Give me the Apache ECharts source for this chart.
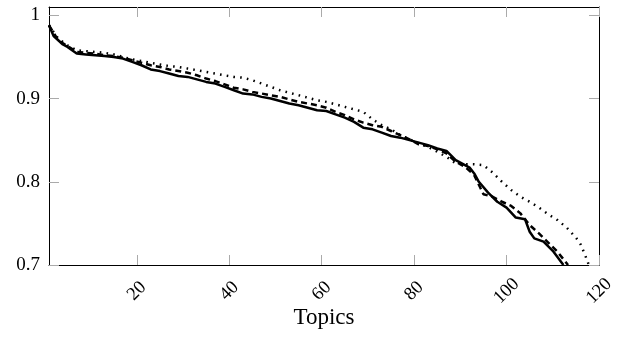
<!DOCTYPE html>
<html>
<head>
<meta charset="utf-8">
<script src="https://cdn.jsdelivr.net/npm/echarts@6/dist/echarts.min.js"></script>
<style>
  html, body { margin: 0; padding: 0; background: #fff; }
  #main { width: 624px; height: 337px; }
</style>
</head>
<body>
<div id="main"></div>
<script>
// topics / values
var solidX = [1, 2, 3, 4, 5, 6, 7, 9, 11, 13, 15, 17, 19, 21, 23, 25, 27, 29, 31, 33, 35, 37, 39, 41, 43, 45, 47, 49, 51, 53, 55, 57, 59, 61, 63, 65, 67, 69, 71, 73, 75, 77, 79, 81, 83, 85, 87, 89, 91, 92, 93, 94, 96, 98, 100, 102, 104, 105, 106, 108, 110, 112.3];
var solidY = [0.988, 0.975, 0.970, 0.965, 0.962, 0.958, 0.954, 0.953, 0.952, 0.951, 0.950, 0.948, 0.944, 0.940, 0.935, 0.933, 0.930, 0.927, 0.926, 0.923, 0.920, 0.918, 0.914, 0.910, 0.906, 0.905, 0.902, 0.900, 0.897, 0.894, 0.892, 0.889, 0.886, 0.885, 0.881, 0.877, 0.872, 0.865, 0.863, 0.859, 0.855, 0.853, 0.850, 0.847, 0.844, 0.840, 0.837, 0.826, 0.820, 0.817, 0.810, 0.800, 0.787, 0.776, 0.769, 0.757, 0.755, 0.740, 0.732, 0.728, 0.717, 0.700];

var dashX = [1, 3, 5, 7, 9, 11, 13, 15, 17, 19, 21, 23, 25, 27, 29, 31, 33, 35, 37, 39, 41, 43, 45, 47, 49, 51, 53, 55, 57, 59, 61, 63, 65, 67, 69, 71, 73, 75, 77, 79, 81, 83, 85, 87, 89, 91, 93, 95, 97, 99, 101, 103, 105, 107, 109, 111, 113.3];
var dashY = [0.988, 0.970, 0.963, 0.956, 0.955, 0.954, 0.952, 0.951, 0.949, 0.946, 0.943, 0.940, 0.938, 0.935, 0.933, 0.931, 0.928, 0.924, 0.921, 0.917, 0.913, 0.911, 0.908, 0.906, 0.904, 0.902, 0.899, 0.896, 0.894, 0.892, 0.889, 0.884, 0.880, 0.875, 0.871, 0.868, 0.866, 0.861, 0.856, 0.851, 0.845, 0.843, 0.839, 0.834, 0.824, 0.818, 0.808, 0.785, 0.782, 0.776, 0.771, 0.762, 0.748, 0.738, 0.727, 0.716, 0.700];

var dotX = [1, 3, 5, 7, 9, 11, 13, 15, 17, 19, 21, 23, 25, 27, 29, 31, 33, 35, 37, 39, 41, 43, 45, 47, 49, 51, 53, 55, 57, 59, 61, 63, 65, 67, 69, 71, 73, 75, 77, 79, 81, 83, 85, 87, 89, 91, 93, 95, 97, 99, 101, 103, 105, 107, 109, 111, 113, 115, 116, 117, 117.8];
var dotY = [0.988, 0.972, 0.964, 0.958, 0.957, 0.956, 0.955, 0.953, 0.950, 0.947, 0.945, 0.943, 0.941, 0.939, 0.938, 0.936, 0.934, 0.932, 0.930, 0.928, 0.926, 0.925, 0.922, 0.918, 0.914, 0.910, 0.907, 0.904, 0.901, 0.898, 0.896, 0.893, 0.890, 0.887, 0.884, 0.875, 0.868, 0.863, 0.856, 0.851, 0.846, 0.842, 0.836, 0.830, 0.822, 0.821, 0.821, 0.820, 0.811, 0.800, 0.790, 0.782, 0.776, 0.769, 0.761, 0.754, 0.745, 0.733, 0.725, 0.712, 0.700];

var xTicks = [20, 40, 60, 80, 100, 120];
var yTicks = [0.7, 0.8, 0.9, 1];

function pairs(xs, ys) {
  var out = [];
  for (var i = 0; i < xs.length; i++) {
    out.push([xs[i], ys[i]]);
  }
  return out;
}

var font = '"Liberation Serif", serif';
var tickStyle = { show: true, inside: true, length: 10, lineStyle: { color: '#aaaaaa', width: 1 } };
var lineBlack = { show: true, onZero: false, lineStyle: { color: '#000', width: 1 } };

var chart = echarts.init(document.getElementById('main'));
chart.setOption({
  animation: false,
  backgroundColor: '#ffffff',
  grid: { left: 49, right: 25, top: 7, bottom: 72, outerBoundsMode: 'none', containLabel: false },
  xAxis: [{
    type: 'value',
    position: 'bottom',
    min: 1,
    max: 120,
    name: 'Topics',
    nameLocation: 'middle',
    nameGap: 41,
    nameMoveOverlap: false,
    nameTextStyle: { fontFamily: font, fontSize: 23, color: '#000' },
    axisLine: lineBlack,
    axisTick: Object.assign({ customValues: xTicks }, tickStyle),
    axisLabel: {
      customValues: xTicks,
      rotate: 45,
      align: 'center',
      verticalAlign: 'middle',
      margin: 26,
      fontFamily: font,
      fontSize: 18.5,
      color: '#000'
    },
    splitLine: { show: false }
  }, {
    type: 'value',
    position: 'top',
    min: 1,
    max: 120,
    axisLine: lineBlack,
    axisTick: Object.assign({ customValues: xTicks }, tickStyle),
    axisLabel: { show: false },
    splitLine: { show: false }
  }],
  yAxis: [{
    type: 'value',
    position: 'left',
    min: 0.7,
    max: 1.01,
    axisLine: lineBlack,
    axisTick: Object.assign({ customValues: yTicks }, tickStyle),
    axisLabel: {
      customValues: yTicks,
      margin: 9,
      fontFamily: font,
      fontSize: 19,
      color: '#000',
      formatter: function (v) { return String(v); }
    },
    splitLine: { show: false }
  }, {
    type: 'value',
    position: 'right',
    min: 0.7,
    max: 1.01,
    axisLine: lineBlack,
    axisTick: Object.assign({ customValues: yTicks }, tickStyle),
    axisLabel: { show: false },
    splitLine: { show: false }
  }],
  series: [{
    type: 'line',
    name: 'dotted',
    data: pairs(dotX, dotY),
    showSymbol: false,
    lineStyle: { color: '#000', width: 2.5, type: [1.6, 5.2] }
  }, {
    type: 'line',
    name: 'dashed',
    data: pairs(dashX, dashY),
    showSymbol: false,
    lineStyle: { color: '#000', width: 2.5, type: [6, 4] }
  }, {
    type: 'line',
    name: 'solid',
    data: pairs(solidX, solidY),
    showSymbol: false,
    lineStyle: { color: '#000', width: 2.5 }
  }]
});
</script>
</body>
</html>
